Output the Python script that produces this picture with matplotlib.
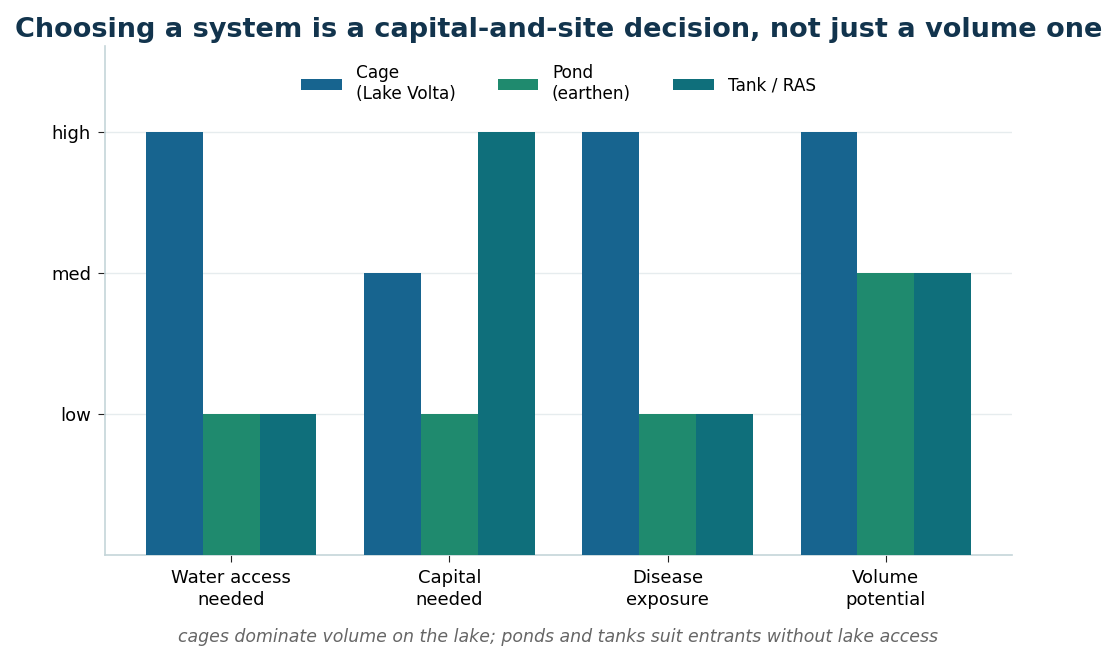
import matplotlib
matplotlib.use("Agg")
import matplotlib.pyplot as plt
import numpy as np

categories = ["Water access\nneeded", "Capital\nneeded", "Disease\nexposure", "Volume\npotential"]
series_names = ["Cage\n(Lake Volta)", "Pond\n(earthen)", "Tank / RAS"]
cage = [3, 2, 3, 3]
pond = [1, 1, 1, 2]
tank = [1, 3, 1, 2]
level_ticks = [1, 2, 3]
level_labels = ["low", "med", "high"]
colors = ["#17648f", "#1f8a6e", "#0f6f7b"]

fig = plt.figure(figsize=(11.17, 6.61), dpi=100)
ax = fig.add_axes([0.094, 0.160, 0.812, 0.770])

x = np.arange(len(categories))
w = 0.26
for i, (vals, name, c) in enumerate(zip([cage, pond, tank], series_names, colors)):
    ax.bar(x + (i - 1) * w, vals, width=w, color=c, label=name, zorder=3)

ax.set_ylim(0, 3.61)
ax.set_yticks(level_ticks)
ax.set_yticklabels(level_labels, fontsize=13)
ax.set_xticks(x)
ax.set_xticklabels(categories, fontsize=13, linespacing=1.3)
ax.grid(axis="y", color="#e6ecee", linewidth=1, zorder=0)
for s in ["top", "right"]:
    ax.spines[s].set_visible(False)
for s in ["left", "bottom"]:
    ax.spines[s].set_color("#c5d5d9")
    ax.spines[s].set_linewidth(1.2)
ax.tick_params(axis="both", colors="#222222", labelcolor="black", length=5, pad=5)

ax.legend(loc="upper center", ncol=3, frameon=False, fontsize=12.2,
          bbox_to_anchor=(0.5, 0.995), columnspacing=2.5, handlelength=2.4)

fig.suptitle("Choosing a system is a capital-and-site decision, not just a volume one",
             fontsize=19.5, fontweight="bold", color="#12344d", x=0.5, y=0.975)
fig.text(0.5, 0.028, "cages dominate volume on the lake; ponds and tanks suit entrants without lake access",
         ha="center", fontsize=12.5, style="italic", color="#666666")

fig.savefig("out.png", dpi=100)
